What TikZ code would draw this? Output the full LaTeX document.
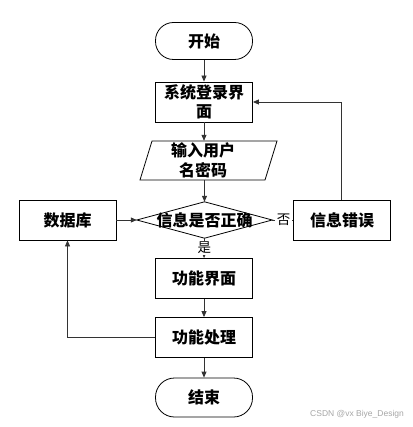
\documentclass[tikz,border=0pt]{standalone}
\usepackage{fontspec}
\newfontfamily\cjk{Noto Sans CJK SC}
\setsansfont{Liberation Sans}
\usetikzlibrary{arrows.meta}
\begin{document}
\begin{tikzpicture}[x=1pt,y=-1pt,
  txt/.style={font=\cjk\bfseries\fontsize{16}{19.5}\selectfont, align=center},
  box/.style={txt, draw, minimum width=97pt, minimum height=40pt, inner sep=0pt, line width=0.8pt},
  term/.style={box, minimum height=37pt, rounded corners=18pt},
  free/.style={txt, inner sep=0pt},
  shapeline/.style={draw, line width=0.8pt},
  conn/.style={draw=black!80, line width=0.8pt},
  arr/.style={conn, -{Triangle[length=6pt,width=5pt]}},
  lbl/.style={font=\cjk\fontsize{13.5}{13.5}\selectfont, fill=white, inner xsep=2pt, inner ysep=1pt}]
\useasboundingbox (0,0) rectangle (412,427);

\node[term] (start) at (204,41) {开始};
\node[box] (login) at (204,102) {系统登录界\\面};
\node[free, minimum height=39pt] (input) at (203,160.5) {输入用户\\名密码};
\draw[shapeline] ([shift={(-51,-19.5)}]input.center) -- ([shift={(74,-19.5)}]input.center)
  -- ([shift={(62,19.5)}]input.center) -- ([shift={(-63,19.5)}]input.center) -- cycle;
\node[free, minimum width=135pt, minimum height=36pt] (dec) at (204.5,220) {信息是否正确};
\draw[shapeline] (dec.west) -- (dec.north) -- (dec.east) -- (dec.south) -- cycle;
\node[box] (db) at (67.5,220) {数据库};
\node[box] (err) at (342,220) {信息错误};
\node[box] (func) at (204,278.5) {功能界面};
\node[box] (proc) at (204,337.5) {功能处理};
\node[term, minimum height=39pt, rounded corners=19pt] (end) at (204,397.5) {结束};

\coordinate (inN) at (input.north -| login.south);
\coordinate (inS) at (input.south -| dec.north);
\draw[arr] (start) -- (login);
\draw[arr] (login.south) -- (inN);
\draw[arr] (inS) -- (dec.north);
\draw[arr] (db) -- (dec.west);
\draw[conn] (dec.east) -- node[lbl, pos=0.55] {否} (err.west);
\draw[arr] (err.north -| 341,0) |- (login.east);
\draw[arr] (dec.south) -- node[lbl, pos=0.5] {是} (func.north);
\draw[arr] (func) -- (proc);
\draw[arr] (proc) -- (end);
\draw[arr] (proc.west) -| (db.south);

\node[font=\sffamily\fontsize{8.5}{10}\selectfont, text=black!35, anchor=west, inner sep=0pt] (wm) at (310,414) {CSDN @vx Biye\_Design};
\end{tikzpicture}
\end{document}
